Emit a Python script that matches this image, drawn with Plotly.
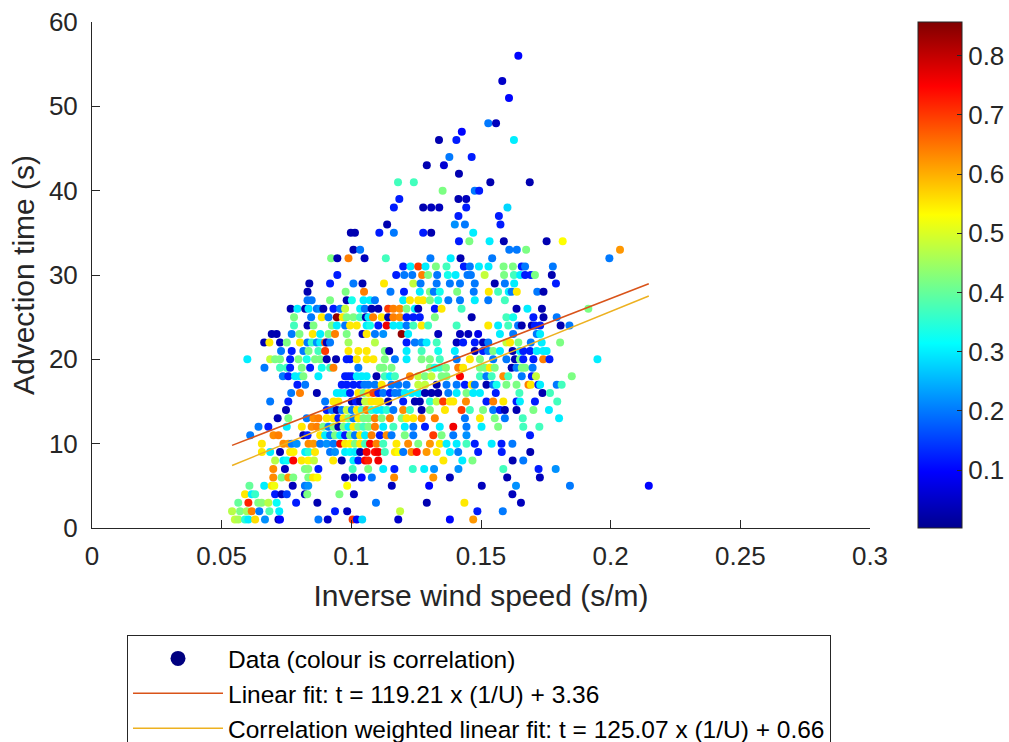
import plotly.graph_objects as go

# ---------------- data ----------------
t_levels = [1, 2, 3, 4, 5, 6, 7, 8, 9, 10, 11, 12, 13, 14, 15, 16, 17, 18, 19, 20,
            21, 22, 23, 24, 25, 26, 27, 28, 29, 30, 31, 32, 33, 34, 35, 36, 37, 38, 39, 40,
            41, 42, 43, 44, 46, 47, 48, 51, 53, 56]

x_rows = [
    [0.0551, 0.0564, 0.0590, 0.0603, 0.0629, 0.0667, 0.0719, 0.0725, 0.0873, 0.0909, 0.1005, 0.1021, 0.1042, 0.1181, 0.1380, 0.1470],
    [0.0540, 0.0571, 0.0597, 0.0616, 0.0645, 0.0684, 0.0722, 0.0937, 0.0984, 0.1188, 0.1486, 0.1584],
    [0.0564, 0.0603, 0.0641, 0.0654, 0.0680, 0.0712, 0.0787, 0.0869, 0.1095, 0.1291, 0.1436, 0.1654],
    [0.0590, 0.0616, 0.0629, 0.0706, 0.0731, 0.0751, 0.0821, 0.0830, 0.0954, 0.1010, 0.1621],
    [0.0607, 0.0664, 0.0693, 0.0703, 0.0774, 0.0821, 0.0834, 0.0984, 0.1156, 0.1300, 0.1503, 0.1635, 0.1843, 0.2147],
    [0.0699, 0.0731, 0.0757, 0.0776, 0.0834, 0.0853, 0.0869, 0.0976, 0.1008, 0.1040, 0.1079, 0.1165, 0.1316, 0.1380, 0.1601, 0.1727],
    [0.0699, 0.0744, 0.0821, 0.0834, 0.0873, 0.1005, 0.1065, 0.1123, 0.1166, 0.1237, 0.1281, 0.1319, 0.1413, 0.1586, 0.1722, 0.1788],
    [0.0706, 0.0738, 0.0751, 0.0776, 0.0808, 0.0834, 0.0856, 0.0930, 0.0963, 0.1008, 0.1027, 0.1053, 0.1065, 0.1104, 0.1355, 0.1428, 0.1467, 0.1622, 0.1663],
    [0.0655, 0.0687, 0.0725, 0.0764, 0.0777, 0.0822, 0.0835, 0.0860, 0.0918, 0.0937, 0.0976, 0.0995, 0.1014, 0.1034, 0.1059, 0.1091, 0.1104, 0.1129, 0.1168, 0.1181, 0.1200, 0.1232, 0.1252, 0.1290, 0.1329, 0.1380, 0.1412, 0.1489, 0.1580, 0.1690],
    [0.0655, 0.0738, 0.0757, 0.0770, 0.0789, 0.0835, 0.0854, 0.0880, 0.0905, 0.0931, 0.0957, 0.0976, 0.0995, 0.1014, 0.1034, 0.1053, 0.1072, 0.1097, 0.1123, 0.1174, 0.1219, 0.1258, 0.1303, 0.1341, 0.1367, 0.1406, 0.1444, 0.1476, 0.1541, 0.1579, 0.1621],
    [0.0610, 0.0700, 0.0719, 0.0815, 0.0831, 0.0880, 0.0899, 0.0918, 0.0937, 0.0957, 0.0976, 0.0995, 0.1014, 0.1034, 0.1053, 0.1078, 0.1110, 0.1136, 0.1155, 0.1206, 0.1239, 0.1316, 0.1348, 0.1393, 0.1444, 0.1689],
    [0.0642, 0.0680, 0.0751, 0.0809, 0.0847, 0.0867, 0.0892, 0.0912, 0.0931, 0.0950, 0.0970, 0.0989, 0.1008, 0.1027, 0.1047, 0.1066, 0.1091, 0.1123, 0.1162, 0.1206, 0.1239, 0.1284, 0.1341, 0.1393, 0.1444, 0.1502, 0.1566, 0.1663, 0.1725],
    [0.0716, 0.0757, 0.0828, 0.0854, 0.0873, 0.0905, 0.0931, 0.0950, 0.0970, 0.0989, 0.1008, 0.1027, 0.1047, 0.1066, 0.1091, 0.1117, 0.1149, 0.1194, 0.1213, 0.1239, 0.1271, 0.1322, 0.1438, 0.1496, 0.1553, 0.1592, 0.1661, 0.1801],
    [0.0748, 0.0905, 0.0925, 0.0944, 0.0963, 0.0982, 0.1002, 0.1021, 0.1040, 0.1059, 0.1078, 0.1097, 0.1117, 0.1136, 0.1162, 0.1200, 0.1226, 0.1271, 0.1303, 0.1361, 0.1425, 0.1457, 0.1508, 0.1547, 0.1573, 0.1592, 0.1637, 0.1702, 0.1762],
    [0.0687, 0.0757, 0.0899, 0.0931, 0.0950, 0.1002, 0.1018, 0.1034, 0.1053, 0.1066, 0.1078, 0.1097, 0.1110, 0.1142, 0.1200, 0.1245, 0.1264, 0.1303, 0.1329, 0.1354, 0.1380, 0.1393, 0.1442, 0.1521, 0.1547, 0.1586, 0.1637, 0.1650, 0.1708, 0.1794],
    [0.0768, 0.0802, 0.0867, 0.0944, 0.0959, 0.0976, 0.0995, 0.1027, 0.1047, 0.1066, 0.1085, 0.1104, 0.1123, 0.1149, 0.1168, 0.1187, 0.1206, 0.1232, 0.1258, 0.1284, 0.1309, 0.1335, 0.1374, 0.1406, 0.1444, 0.1470, 0.1496, 0.1557, 0.1648, 0.1737, 0.1766],
    [0.0792, 0.0822, 0.0963, 0.0982, 0.1008, 0.1033, 0.1050, 0.1066, 0.1091, 0.1117, 0.1155, 0.1181, 0.1213, 0.1258, 0.1284, 0.1329, 0.1367, 0.1406, 0.1438, 0.1464, 0.1476, 0.1521, 0.1547, 0.1560, 0.1598, 0.1637, 0.1683, 0.1692, 0.1721, 0.1728, 0.1792, 0.1811],
    [0.0736, 0.0757, 0.0783, 0.0802, 0.0815, 0.0873, 0.0976, 0.0989, 0.1002, 0.1021, 0.1040, 0.1059, 0.1097, 0.1129, 0.1149, 0.1168, 0.1226, 0.1258, 0.1284, 0.1309, 0.1348, 0.1367, 0.1419, 0.1496, 0.1521, 0.1541, 0.1586, 0.1605, 0.1657, 0.1696, 0.1712, 0.1850],
    [0.0665, 0.0725, 0.0751, 0.0764, 0.0809, 0.0841, 0.0886, 0.0918, 0.0931, 0.1027, 0.1110, 0.1123, 0.1155, 0.1303, 0.1322, 0.1341, 0.1365, 0.1412, 0.1431, 0.1496, 0.1515, 0.1534, 0.1553, 0.1618, 0.1637, 0.1657, 0.1670, 0.1699],
    [0.0599, 0.0687, 0.0706, 0.0725, 0.0764, 0.0796, 0.0828, 0.0860, 0.0880, 0.0905, 0.0941, 0.0982, 0.0995, 0.1021, 0.1059, 0.1085, 0.1129, 0.1168, 0.1213, 0.1271, 0.1303, 0.1341, 0.1406, 0.1457, 0.1496, 0.1547, 0.1598, 0.1631, 0.1650, 0.1663, 0.1702, 0.1740, 0.1764, 0.1949],
    [0.0729, 0.0770, 0.0815, 0.0835, 0.0873, 0.0899, 0.0989, 0.1027, 0.1059, 0.1129, 0.1146, 0.1213, 0.1271, 0.1335, 0.1399, 0.1476, 0.1508, 0.1528, 0.1547, 0.1573, 0.1622, 0.1650, 0.1663, 0.1689, 0.1715, 0.1740, 0.1753],
    [0.0664, 0.0684, 0.0725, 0.0751, 0.0802, 0.0831, 0.0847, 0.0867, 0.0880, 0.0899, 0.0905, 0.0918, 0.0989, 0.1091, 0.1213, 0.1245, 0.1271, 0.1290, 0.1329, 0.1406, 0.1431, 0.1476, 0.1508, 0.1528, 0.1598, 0.1612, 0.1644, 0.1692, 0.1734, 0.1805],
    [0.0693, 0.0712, 0.0770, 0.0800, 0.0851, 0.0880, 0.0912, 0.0937, 0.0982, 0.1043, 0.1059, 0.1091, 0.1123, 0.1194, 0.1219, 0.1335, 0.1419, 0.1451, 0.1489, 0.1573, 0.1624, 0.1715, 0.1728],
    [0.0779, 0.0831, 0.0854, 0.0925, 0.0944, 0.0976, 0.0995, 0.1021, 0.1059, 0.1072, 0.1104, 0.1136, 0.1162, 0.1187, 0.1213, 0.1239, 0.1271, 0.1296, 0.1406, 0.1528, 0.1566, 0.1605, 0.1643, 0.1657, 0.1696, 0.1708, 0.1728, 0.1807, 0.1841],
    [0.0779, 0.0845, 0.0886, 0.0912, 0.0944, 0.0967, 0.0982, 0.1008, 0.1034, 0.1056, 0.1066, 0.1084, 0.1117, 0.1142, 0.1162, 0.1187, 0.1213, 0.1239, 0.1264, 0.1322, 0.1464, 0.1598, 0.1624, 0.1702, 0.1741, 0.1792],
    [0.0766, 0.0792, 0.0822, 0.0835, 0.0867, 0.0880, 0.0892, 0.0931, 0.0957, 0.0976, 0.1034, 0.1052, 0.1078, 0.1104, 0.1142, 0.1162, 0.1187, 0.1213, 0.1245, 0.1258, 0.1322, 0.1348, 0.1425, 0.1637, 0.1679, 0.1735, 0.1914],
    [0.0831, 0.0847, 0.0918, 0.0982, 0.1002, 0.1047, 0.1072, 0.1091, 0.1200, 0.1226, 0.1258, 0.1277, 0.1303, 0.1335, 0.1374, 0.1419, 0.1476, 0.1528, 0.1592],
    [0.0831, 0.0978, 0.1049, 0.1151, 0.1203, 0.1264, 0.1303, 0.1318, 0.1341, 0.1408, 0.1472, 0.1530, 0.1566, 0.1607, 0.1618, 0.1638, 0.1717, 0.1741],
    [0.0838, 0.0918, 0.1008, 0.1043, 0.1126, 0.1239, 0.1267, 0.1329, 0.1380, 0.1419, 0.1476, 0.1553, 0.1592, 0.1628, 0.1789],
    [0.0946, 0.1173, 0.1204, 0.1235, 0.1273, 0.1296, 0.1331, 0.1372, 0.1402, 0.1448, 0.1461, 0.1514, 0.1589, 0.1627, 0.1651, 0.1670, 0.1692, 0.1708, 0.1773],
    [0.1200, 0.1228, 0.1258, 0.1286, 0.1326, 0.1367, 0.1434, 0.1457, 0.1492, 0.1529, 0.1587, 0.1623, 0.1657, 0.1670, 0.1777],
    [0.0922, 0.0946, 0.0989, 0.1051, 0.1133, 0.1305, 0.1383, 0.1421, 0.1543, 0.1995],
    [0.1008, 0.1034, 0.1609, 0.1638, 0.1674, 0.2036],
    [0.1415, 0.1455, 0.1533, 0.1588, 0.1753, 0.1815],
    [0.0998, 0.1014, 0.1108, 0.1164, 0.1277, 0.1308, 0.1470],
    [0.1138, 0.1399, 0.1438, 0.1575],
    [0.1413, 0.1569],
    [0.1164, 0.1277, 0.1308, 0.1339, 0.1443, 0.1602],
    [0.1185, 0.1413, 0.1443],
    [0.1352, 0.1476, 0.1493],
    [0.1180, 0.1241, 0.1536, 0.1688],
    [0.1415],
    [0.1291, 0.1357],
    [0.1378, 0.1464],
    [0.1338, 0.1405, 0.1627],
    [0.1426],
    [0.1528, 0.1558],
    [0.1608],
    [0.1582],
    [0.1644],
]

corr_rows = [
    [0.48, 0.46, 0.35, 0.30, 0.56, 0.22, 0.03, 0.10, 0.20, 0.05, 0.70, 0.10, 0.28, 0.05, 0.10, 0.62],
    [0.47, 0.42, 0.45, 0.64, 0.20, 0.38, 0.30, 0.12, 0.04, 0.48, 0.12, 0.20],
    [0.40, 0.72, 0.42, 0.43, 0.47, 0.32, 0.12, 0.03, 0.20, 0.03, 0.55, 0.04],
    [0.55, 0.30, 0.36, 0.12, 0.04, 0.15, 0.04, 0.42, 0.42, 0.04, 0.04],
    [0.40, 0.30, 0.55, 0.52, 0.04, 0.20, 0.22, 0.53, 0.04, 0.10, 0.04, 0.22, 0.20, 0.10],
    [0.63, 0.42, 0.62, 0.42, 0.42, 0.55, 0.53, 0.04, 0.04, 0.10, 0.20, 0.63, 0.62, 0.04, 0.03, 0.04],
    [0.63, 0.04, 0.42, 0.43, 0.12, 0.37, 0.42, 0.30, 0.12, 0.36, 0.30, 0.22, 0.22, 0.37, 0.12, 0.22],
    [0.47, 0.30, 0.32, 0.75, 0.55, 0.54, 0.48, 0.55, 0.03, 0.30, 0.12, 0.75, 0.72, 0.76, 0.55, 0.30, 0.42, 0.03, 0.20],
    [0.55, 0.30, 0.03, 0.55, 0.54, 0.30, 0.35, 0.55, 0.20, 0.22, 0.30, 0.31, 0.30, 0.03, 0.76, 0.74, 0.76, 0.37, 0.55, 0.53, 0.20, 0.63, 0.74, 0.62, 0.55, 0.30, 0.20, 0.12, 0.12, 0.03],
    [0.55, 0.63, 0.62, 0.20, 0.22, 0.63, 0.62, 0.20, 0.22, 0.20, 0.76, 0.55, 0.54, 0.42, 0.55, 0.37, 0.75, 0.64, 0.37, 0.55, 0.63, 0.42, 0.62, 0.55, 0.30, 0.30, 0.37, 0.12, 0.30, 0.12, 0.20],
    [0.20, 0.63, 0.64, 0.03, 0.12, 0.55, 0.30, 0.20, 0.42, 0.30, 0.12, 0.42, 0.20, 0.55, 0.30, 0.64, 0.12, 0.63, 0.20, 0.42, 0.20, 0.70, 0.42, 0.20, 0.22, 0.12],
    [0.20, 0.12, 0.30, 0.55, 0.63, 0.64, 0.42, 0.20, 0.42, 0.03, 0.42, 0.30, 0.55, 0.42, 0.37, 0.42, 0.64, 0.30, 0.37, 0.30, 0.20, 0.12, 0.30, 0.76, 0.20, 0.30, 0.42, 0.37, 0.37],
    [0.03, 0.42, 0.20, 0.63, 0.64, 0.55, 0.55, 0.12, 0.55, 0.42, 0.20, 0.55, 0.42, 0.42, 0.64, 0.42, 0.64, 0.42, 0.55, 0.55, 0.63, 0.64, 0.20, 0.55, 0.42, 0.20, 0.37, 0.30],
    [0.03, 0.12, 0.20, 0.03, 0.20, 0.48, 0.20, 0.55, 0.37, 0.64, 0.35, 0.30, 0.30, 0.35, 0.20, 0.63, 0.37, 0.03, 0.42, 0.55, 0.70, 0.37, 0.42, 0.20, 0.12, 0.03, 0.03, 0.42, 0.30],
    [0.20, 0.12, 0.20, 0.55, 0.55, 0.03, 0.12, 0.03, 0.48, 0.48, 0.55, 0.55, 0.55, 0.03, 0.12, 0.03, 0.03, 0.35, 0.48, 0.70, 0.55, 0.55, 0.63, 0.12, 0.64, 0.55, 0.12, 0.30, 0.12, 0.37],
    [0.20, 0.64, 0.03, 0.30, 0.30, 0.30, 0.12, 0.55, 0.42, 0.55, 0.70, 0.12, 0.20, 0.12, 0.20, 0.20, 0.30, 0.30, 0.30, 0.03, 0.03, 0.03, 0.20, 0.30, 0.42, 0.30, 0.30, 0.12, 0.37, 0.03, 0.37],
    [0.12, 0.20, 0.12, 0.12, 0.12, 0.12, 0.20, 0.20, 0.20, 0.55, 0.20, 0.20, 0.20, 0.48, 0.48, 0.03, 0.20, 0.20, 0.12, 0.55, 0.20, 0.03, 0.20, 0.33, 0.42, 0.42, 0.64, 0.55, 0.12, 0.30, 0.20, 0.37],
    [0.20, 0.12, 0.30, 0.30, 0.42, 0.30, 0.12, 0.12, 0.12, 0.30, 0.30, 0.30, 0.03, 0.37, 0.30, 0.37, 0.63, 0.48, 0.42, 0.48, 0.42, 0.42, 0.75, 0.37, 0.20, 0.37, 0.63, 0.37, 0.20, 0.12, 0.48, 0.42],
    [0.20, 0.37, 0.37, 0.12, 0.42, 0.12, 0.33, 0.37, 0.64, 0.20, 0.42, 0.42, 0.42, 0.42, 0.33, 0.37, 0.42, 0.64, 0.55, 0.42, 0.42, 0.55, 0.42, 0.03, 0.20, 0.42, 0.42, 0.20],
    [0.30, 0.48, 0.42, 0.42, 0.12, 0.42, 0.33, 0.42, 0.42, 0.03, 0.03, 0.12, 0.12, 0.55, 0.55, 0.55, 0.42, 0.20, 0.30, 0.42, 0.42, 0.37, 0.20, 0.55, 0.42, 0.20, 0.20, 0.03, 0.42, 0.12, 0.12, 0.64, 0.12, 0.30],
    [0.20, 0.12, 0.20, 0.42, 0.37, 0.70, 0.55, 0.55, 0.55, 0.42, 0.03, 0.30, 0.37, 0.33, 0.30, 0.03, 0.12, 0.20, 0.42, 0.30, 0.03, 0.30, 0.12, 0.12, 0.30, 0.30, 0.30],
    [0.03, 0.55, 0.04, 0.42, 0.55, 0.20, 0.36, 0.22, 0.30, 0.68, 0.04, 0.20, 0.45, 0.47, 0.12, 0.20, 0.22, 0.30, 0.37, 0.04, 0.12, 0.12, 0.04, 0.20, 0.48, 0.55, 0.42, 0.20, 0.30, 0.42],
    [0.03, 0.03, 0.20, 0.42, 0.55, 0.30, 0.42, 0.64, 0.42, 0.04, 0.55, 0.20, 0.22, 0.84, 0.30, 0.04, 0.04, 0.04, 0.08, 0.30, 0.20, 0.20, 0.30],
    [0.37, 0.03, 0.42, 0.42, 0.30, 0.20, 0.55, 0.55, 0.30, 0.33, 0.12, 0.76, 0.30, 0.30, 0.20, 0.37, 0.55, 0.37, 0.37, 0.55, 0.30, 0.37, 0.20, 0.03, 0.03, 0.12, 0.12, 0.03, 0.20],
    [0.42, 0.20, 0.55, 0.20, 0.84, 0.55, 0.42, 0.42, 0.37, 0.03, 0.30, 0.64, 0.55, 0.03, 0.64, 0.63, 0.12, 0.12, 0.12, 0.42, 0.03, 0.37, 0.33, 0.12, 0.03, 0.20],
    [0.03, 0.30, 0.03, 0.30, 0.20, 0.22, 0.03, 0.12, 0.20, 0.48, 0.30, 0.20, 0.03, 0.03, 0.70, 0.64, 0.63, 0.42, 0.30, 0.03, 0.12, 0.55, 0.37, 0.03, 0.30, 0.03, 0.42],
    [0.20, 0.20, 0.42, 0.03, 0.33, 0.30, 0.30, 0.20, 0.30, 0.55, 0.55, 0.55, 0.42, 0.33, 0.20, 0.20, 0.30, 0.20, 0.37],
    [0.03, 0.42, 0.64, 0.20, 0.12, 0.30, 0.42, 0.20, 0.33, 0.42, 0.20, 0.55, 0.37, 0.30, 0.20, 0.55, 0.20, 0.03],
    [0.03, 0.12, 0.20, 0.03, 0.55, 0.48, 0.20, 0.20, 0.20, 0.20, 0.20, 0.03, 0.20, 0.30, 0.12],
    [0.12, 0.12, 0.20, 0.20, 0.64, 0.42, 0.20, 0.33, 0.30, 0.20, 0.20, 0.48, 0.42, 0.37, 0.30, 0.12, 0.12, 0.42, 0.03],
    [0.12, 0.30, 0.70, 0.30, 0.42, 0.37, 0.12, 0.20, 0.30, 0.30, 0.42, 0.42, 0.12, 0.20, 0.20],
    [0.42, 0.03, 0.64, 0.04, 0.37, 0.20, 0.30, 0.03, 0.20, 0.20],
    [0.03, 0.20, 0.20, 0.20, 0.42, 0.62],
    [0.12, 0.42, 0.30, 0.03, 0.03, 0.53],
    [0.03, 0.03, 0.12, 0.20, 0.12, 0.03, 0.30],
    [0.03, 0.22, 0.20, 0.12],
    [0.12, 0.12],
    [0.12, 0.03, 0.04, 0.04, 0.12, 0.28],
    [0.12, 0.03, 0.04],
    [0.42, 0.20, 0.12],
    [0.37, 0.37, 0.03, 0.03],
    [0.03],
    [0.03, 0.06],
    [0.20, 0.12],
    [0.03, 0.12, 0.30],
    [0.10],
    [0.20, 0.04],
    [0.10],
    [0.05],
    [0.10],
]

# fit coefficients (from the legend)
fit_slope, fit_intercept = 119.21, 3.36
wfit_slope, wfit_intercept = 125.07, 0.66

x_tick_vals = [0, 0.05, 0.1, 0.15, 0.2, 0.25, 0.3]
x_tick_text = ["0", "0.05", "0.1", "0.15", "0.2", "0.25", "0.3"]
y_tick_vals = [0, 10, 20, 30, 40, 50, 60]
cb_tick_vals = [0.1, 0.2, 0.3, 0.4, 0.5, 0.6, 0.7, 0.8]
cb_tick_text = ["0.1", "0.2", "0.3", "0.4", "0.5", "0.6", "0.7", "0.8"]
c_min, c_max = 0.002, 0.857

# ---------------- build ----------------
xs, ts, cs = [], [], []
for t, xr, cr in zip(t_levels, x_rows, corr_rows):
    for xv, cv in zip(xr, cr):
        xs.append(xv)
        ts.append(t)
        cs.append(cv)

x_lo, x_hi = min(xs), max(xs)

FONT = "Liberation Sans, Arial, Helvetica, sans-serif"
TXT = "#262626"

jet = [[0.0, "rgb(0,0,143)"], [0.111, "rgb(0,0,255)"], [0.365, "rgb(0,255,255)"],
       [0.619, "rgb(255,255,0)"], [0.873, "rgb(255,0,0)"], [1.0, "rgb(128,0,0)"]]

fig = go.Figure()

fig.add_trace(go.Scatter(
    x=xs, y=ts, mode="markers", showlegend=False, hoverinfo="x+y",
    marker=dict(size=8, color=cs, colorscale=jet, cmin=c_min, cmax=c_max,
                line=dict(width=0),
                colorbar=dict(
                    x=(918 - 92) / 778, xanchor="left", xpad=0,
                    y=0.5, yanchor="middle", len=1.0, lenmode="fraction", ypad=0,
                    thickness=44, thicknessmode="pixels",
                    outlinecolor=TXT, outlinewidth=1,
                    ticks="inside", ticklen=5, tickcolor=TXT,
                    tickvals=cb_tick_vals, ticktext=cb_tick_text,
                    tickfont=dict(size=26, color=TXT, family=FONT),
                )),
))

# legend entry for the data
fig.add_trace(go.Scatter(
    x=[None], y=[None], mode="markers", name="Data (colour is correlation)",
    marker=dict(size=15, color="#000080"),
))

fig.add_trace(go.Scatter(
    x=[x_lo, x_hi], y=[fit_slope * x_lo + fit_intercept, fit_slope * x_hi + fit_intercept],
    mode="lines", line=dict(color="#D95319", width=1.5),
    name="Linear fit: t = 119.21 x (1/U) + 3.36",
))
fig.add_trace(go.Scatter(
    x=[x_lo, x_hi], y=[wfit_slope * x_lo + wfit_intercept, wfit_slope * x_hi + wfit_intercept],
    mode="lines", line=dict(color="#EDB120", width=1.5),
    name="Correlation weighted linear fit: t = 125.07 x (1/U) + 0.66",
))

fig.update_layout(
    width=1009, height=742,
    margin=dict(l=92, r=139, t=22, b=214, autoexpand=False),
    paper_bgcolor="white", plot_bgcolor="white",
    font=dict(family=FONT, color=TXT, size=26),
    xaxis=dict(
        range=[0, 0.3], tickvals=x_tick_vals, ticktext=x_tick_text,
        ticks="inside", ticklen=8, tickcolor=TXT, tickwidth=1,
        showline=True, linecolor=TXT, linewidth=1, showgrid=False, zeroline=False,
        tickfont=dict(size=26), ticklabelstandoff=5, automargin=False,
        title=dict(text="Inverse wind speed (s/m)", font=dict(size=30), standoff=14),
    ),
    yaxis=dict(
        range=[0, 60], tickvals=y_tick_vals,
        ticks="inside", ticklen=8, tickcolor=TXT, tickwidth=1,
        showline=True, linecolor=TXT, linewidth=1, showgrid=False, zeroline=False,
        tickfont=dict(size=26), ticklabelstandoff=8, automargin=False,
        title=dict(text="Advection time (s)", font=dict(size=30), standoff=5),
    ),
    legend=dict(
        x=(127 - 92) / 778, y=(528 - 635) / 506, xanchor="left", yanchor="top",
        bordercolor=TXT, borderwidth=1, bgcolor="white",
        font=dict(size=24.5, color="#000000"), itemwidth=90, tracegroupgap=0,
    ),
)

fig.write_html("out.html")
